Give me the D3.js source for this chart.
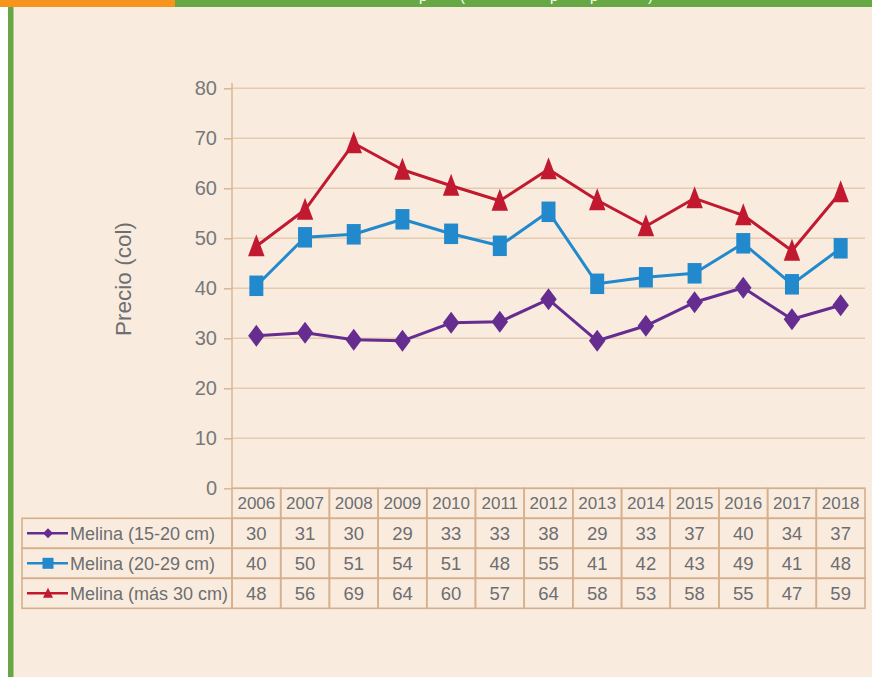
<!DOCTYPE html>
<meta charset="utf-8">
<style>
body { margin: 0; background: #fff; }
svg { display: block; font-family: "Liberation Sans", Arial, sans-serif; }
.grid line { stroke: #e5ccb1; stroke-width: 1.5px; }
.axis path { display: none; }
.axis line { stroke: #d9b792; stroke-width: 1.5px; }
.axis text { fill: #77787b; font-size: 20px; }
.cell { fill: none; stroke: #d6b08c; stroke-width: 1.6px; }
.tt { fill: #6d6e71; }
.line { fill: none; stroke-width: 3px; stroke-linejoin: round; }
</style>
<svg width="872" height="677"></svg>
<script src="https://cdn.jsdelivr.net/npm/d3@7"></script>
<script>
// years (columns of the table / x categories)
var years = ["2006", "2007", "2008", "2009", "2010", "2011", "2012", "2013", "2014", "2015", "2016", "2017", "2018"];

// series names
var names = ["Melina (15-20 cm)", "Melina (20-29 cm)", "Melina (más 30 cm)"];

// values printed in the table
var table15 = [30, 31, 30, 29, 33, 33, 38, 29, 33, 37, 40, 34, 37];
var table20 = [40, 50, 51, 54, 51, 48, 55, 41, 42, 43, 49, 41, 48];
var table30 = [48, 56, 69, 64, 60, 57, 64, 58, 53, 58, 55, 47, 59];

// values as plotted
var plot15 = [30.5, 31.1, 29.7, 29.5, 33.1, 33.3, 37.8, 29.5, 32.5, 37.2, 40.1, 33.8, 36.6];
var plot20 = [40.5, 50.2, 50.8, 53.8, 50.9, 48.5, 55.3, 40.9, 42.2, 43, 49, 40.8, 48];
var plot30 = [48.4, 55.7, 69, 63.7, 60.5, 57.5, 63.8, 57.6, 52.4, 58, 54.6, 47.5, 59.2];

var yTicks = [0, 10, 20, 30, 40, 50, 60, 70, 80];

var series = [
  {name: names[0], table: table15, values: plot15, color: "#662d91", shape: "diamond"},
  {name: names[1], table: table20, values: plot20, color: "#2289cc", shape: "square"},
  {name: names[2], table: table30, values: plot30, color: "#c1192f", shape: "triangle"}
];

var svg = d3.select("svg");

// page background and frame
svg.append("rect").attr("width", 872).attr("height", 677).attr("fill", "#f9ecdf");
svg.append("rect").attr("x", 0).attr("y", 0).attr("width", 8).attr("height", 677).attr("fill", "#fff");
svg.append("rect").attr("x", 8).attr("y", 0).attr("width", 5.5).attr("height", 677).attr("fill", "#65a844");
svg.append("rect").attr("x", 0).attr("y", 0).attr("width", 175).attr("height", 7).attr("fill", "#f7941e");
svg.append("rect").attr("x", 175).attr("y", 0).attr("width", 697).attr("height", 7).attr("fill", "#65a844");
// descenders of the cut-off title
var ttl = svg.append("text").attr("y", 0.5).attr("fill", "#fff").style("font-size", "15px");
[["p", 419], ["(", 460], ["p", 550], ["p", 590], [")", 648]].forEach(function(c) {
  ttl.append("tspan").attr("x", c[1]).text(c[0]);
});

var plotLeft = 232, plotRight = 865, plotTop = 88.3, plotBottom = 488.3, rowH = 30;

var x = d3.scaleBand().domain(years).range([plotLeft, plotRight]).paddingInner(0).paddingOuter(0);
var y = d3.scaleLinear().domain([0, 80]).range([plotBottom, plotTop]);
var cx = function(i) { return x(years[i]) + x.bandwidth() / 2; };

// gridlines
svg.append("g").attr("class", "grid")
  .selectAll("line").data(yTicks).enter().append("line")
    .attr("x1", plotLeft).attr("x2", plotRight)
    .attr("y1", function(d) { return y(d); }).attr("y2", function(d) { return y(d); });

// y axis
svg.append("g").attr("class", "axis")
    .attr("transform", "translate(" + plotLeft + ",0)")
    .call(d3.axisLeft(y).tickValues(yTicks).tickSize(8).tickPadding(7));

svg.append("line")
    .attr("x1", plotLeft).attr("x2", plotLeft).attr("y1", 83).attr("y2", plotBottom)
    .attr("stroke", "#d9b792").attr("stroke-width", 1.5);

svg.append("text")
    .attr("class", "tt")
    .attr("transform", "translate(131,279) rotate(-90)")
    .attr("text-anchor", "middle")
    .style("font-size", "22.5px")
    .text("Precio (col)");

// marker shapes
function marker(shape, w, h) {
  if (shape === "diamond") return "M0," + (-h / 2) + "L" + (w / 2) + ",0L0," + (h / 2) + "L" + (-w / 2) + ",0Z";
  if (shape === "square") return "M" + (-w / 2) + "," + (-h / 2) + "h" + w + "v" + h + "h" + (-w) + "Z";
  return "M0," + (-h * 0.55) + "L" + (w / 2) + "," + (h * 0.45) + "L" + (-w / 2) + "," + (h * 0.45) + "Z";
}

var line = d3.line()
    .x(function(d, i) { return cx(i); })
    .y(function(d) { return y(d); });

var sg = svg.selectAll(".series").data(series).enter().append("g").attr("class", "series");

sg.append("path")
    .attr("class", "line")
    .attr("d", function(d) { return line(d.values); })
    .attr("stroke", function(d) { return d.color; });

sg.each(function(s) {
  var w = s.shape === "square" ? 14 : 16.5, h = s.shape === "square" ? 20.5 : 22;
  d3.select(this).selectAll(".pt").data(s.values).enter().append("path")
      .attr("class", "pt")
      .attr("transform", function(d, i) { return "translate(" + cx(i) + "," + y(d) + ")"; })
      .attr("d", marker(s.shape, w, h))
      .attr("fill", s.color);
});

// table
var tb = svg.append("g");
var legendLeft = 22;

// header row
tb.selectAll(".hcell").data(years).enter().append("rect")
    .attr("class", "cell")
    .attr("x", function(d) { return x(d); }).attr("y", plotBottom)
    .attr("width", x.bandwidth()).attr("height", rowH);
tb.selectAll(".htext").data(years).enter().append("text")
    .attr("class", "tt")
    .attr("x", function(d) { return x(d) + x.bandwidth() / 2; })
    .attr("y", plotBottom + rowH / 2)
    .attr("dy", "0.36em")
    .attr("text-anchor", "middle")
    .style("font-size", "17px")
    .text(function(d) { return d; });

series.forEach(function(s, r) {
  var ry = plotBottom + rowH * (r + 1);
  tb.append("rect").attr("class", "cell")
      .attr("x", legendLeft).attr("y", ry).attr("width", plotLeft - legendLeft).attr("height", rowH);
  tb.selectAll(".v" + r).data(s.table).enter().append("rect")
      .attr("class", "cell")
      .attr("x", function(d, i) { return x(years[i]); }).attr("y", ry)
      .attr("width", x.bandwidth()).attr("height", rowH);
  tb.selectAll(".t" + r).data(s.table).enter().append("text")
      .attr("class", "tt")
      .attr("x", function(d, i) { return cx(i); })
      .attr("y", ry + rowH / 2)
      .attr("dy", "0.36em")
      .attr("text-anchor", "middle")
      .style("font-size", "18.5px")
      .text(function(d) { return d; });
  // legend swatch
  var my = ry + rowH / 2;
  tb.append("line").attr("x1", 27).attr("x2", 68).attr("y1", my).attr("y2", my)
      .attr("stroke", s.color).attr("stroke-width", 2.5);
  tb.append("path")
      .attr("transform", "translate(48," + my + ")")
      .attr("d", s.shape === "square" ? marker("square", 11, 11) : marker(s.shape, 10, 10))
      .attr("fill", s.color);
  tb.append("text")
      .attr("class", "tt")
      .attr("x", 70).attr("y", my).attr("dy", "0.36em")
      .style("font-size", "18px")
      .text(s.name);
});
</script>
